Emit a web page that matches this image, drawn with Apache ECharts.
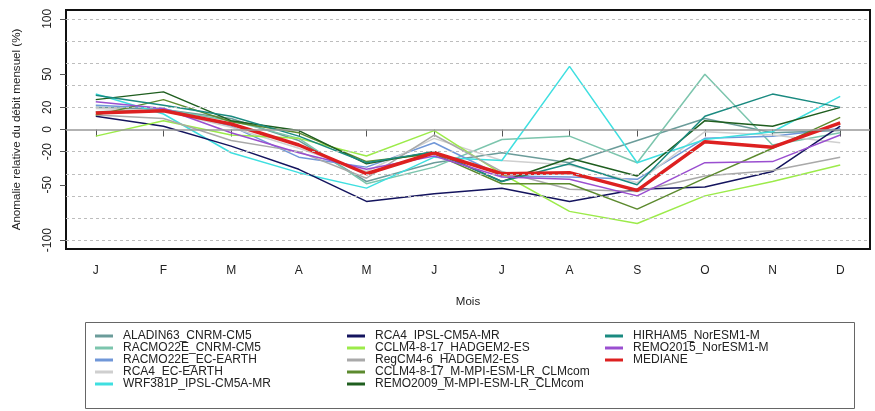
<!DOCTYPE html>
<html>
<head>
<meta charset="utf-8">
<script src="https://cdn.jsdelivr.net/npm/echarts@6/dist/echarts.min.js"></script>
<style>
  html, body { margin: 0; padding: 0; background: #fff; }
  #chart { width: 875px; height: 411px; }
</style>
</head>
<body>
<div id="chart"></div>
<script>
// Month positions 1..12 and their single-letter labels
const monthIndex = [1, 2, 3, 4, 5, 6, 7, 8, 9, 10, 11, 12];
const monthLabels = ['J', 'F', 'M', 'A', 'M', 'J', 'J', 'A', 'S', 'O', 'N', 'D'];

// Y axis: labelled values and dashed reference levels
const yTickValues = [-100, -50, -20, 0, 20, 50, 100];
const gridLevels = [-100, -80, -60, -40, -20, 20, 40, 60, 80, 100];

// Monthly relative flow anomaly (%) per simulation
const aladin63_cnrm = [20, 18, 10, -10, -47, -30, -21, -30, -10, 10, -3, -1];
const racmo22e_cnrm = [16, 18, 8, -8, -49, -34, -9, -6, -30, 50, -14, -3];
const racmo22e_ecearth = [22, 19, 3, -25, -34, -12, -42, -43, -45, -8, -6, 1];
const rca4_ecearth = [19, 17, 2, -17, -38, -8, -28, -32, -48, -2, -5, -12];
const wrf381p_ipsl = [32, 14, -21, -39, -53, -25, -28, 57, -30, -9, -2, 30];
const rca4_ipsl = [12, 3, -15, -36, -65, -58, -53, -65, -54, -52, -38, 3];
const cclm_hadgem = [-6, 8, -5, -8, -24, -1, -40, -74, -85, -60, -47, -32];
const regcm_hadgem = [13, 10, -10, -20, -44, -5, -38, -54, -56, -42, -37, -25];
const cclm_mpi = [13, 27, 7, -3, -29, -22, -49, -49, -72, -44, -17, 11];
const remo2009_mpi = [27, 34, 8, -1, -31, -20, -47, -26, -42, 8, 3, 20];
const hirham5_noresm = [31, 22, 12, -6, -30, -20, -47, -31, -50, 12, 32, 20];
const remo2015_noresm = [25, 19, -3, -21, -36, -24, -43, -45, -60, -30, -29, -5];
const mediane = [15, 17, 5, -14, -40, -21, -40, -39, -55, -11, -16, 6];

const models = [
  { name: 'ALADIN63_CNRM-CM5', values: aladin63_cnrm, color: '#6b9c9a' },
  { name: 'RACMO22E_CNRM-CM5', values: racmo22e_cnrm, color: '#7cc5ad' },
  { name: 'RACMO22E_EC-EARTH', values: racmo22e_ecearth, color: '#7097d8' },
  { name: 'RCA4_EC-EARTH', values: rca4_ecearth, color: '#cfcfcf' },
  { name: 'WRF381P_IPSL-CM5A-MR', values: wrf381p_ipsl, color: '#3fdfe0' },
  { name: 'RCA4_IPSL-CM5A-MR', values: rca4_ipsl, color: '#14145e' },
  { name: 'CCLM4-8-17_HADGEM2-ES', values: cclm_hadgem, color: '#9ceb4a' },
  { name: 'RegCM4-6_HADGEM2-ES', values: regcm_hadgem, color: '#a9a9a9' },
  { name: 'CCLM4-8-17_M-MPI-ESM-LR_CLMcom', values: cclm_mpi, color: '#5c8a2e' },
  { name: 'REMO2009_M-MPI-ESM-LR_CLMcom', values: remo2009_mpi, color: '#1f5e1f' },
  { name: 'HIRHAM5_NorESM1-M', values: hirham5_noresm, color: '#1a8a80' },
  { name: 'REMO2015_NorESM1-M', values: remo2015_noresm, color: '#9a4fd0' },
  { name: 'MEDIANE', values: mediane, color: '#dd2020', width: 3.5 }
];

const FONT = '"Liberation Sans", Arial, sans-serif';

const chart = echarts.init(document.getElementById('chart'), null, { renderer: 'canvas' });

const series = [];
// Background levels: dashed grid plus solid zero line
series.push({
  type: 'line',
  data: [],
  silent: true,
  z: 1,
  markLine: {
    silent: true,
    symbol: ['none', 'none'],
    label: { show: false },
    lineStyle: { color: '#bdbdbd', type: [3, 3], width: 1 },
    data: gridLevels.map(v => ({ yAxis: v }))
      .concat([{ yAxis: 0, lineStyle: { color: '#999', type: 'solid', width: 1.5 } }])
  }
});

models.forEach(m => {
  series.push({
    name: m.name,
    type: 'line',
    data: m.values.map((v, i) => [monthIndex[i], v]),
    showSymbol: false,
    symbol: 'none',
    z: 2,
    lineStyle: { color: m.color, width: m.width || 1.5 },
    itemStyle: { color: m.color },
    emphasis: { disabled: true },
    animation: false
  });
});

function legendColumn(names, left) {
  return {
    orient: 'vertical',
    left: left,
    top: 330,
    icon: 'rect',
    itemWidth: 18,
    itemHeight: 3,
    itemGap: 0,
    padding: 0,
    selectedMode: false,
    textStyle: { fontFamily: FONT, fontSize: 12, color: '#222', lineHeight: 11.6, padding: [0, 0, 0, 5] },
    data: names
  };
}

const names = models.map(m => m.name);

chart.setOption({
  animation: false,
  backgroundColor: '#fff',
  grid: {
    left: 66, top: 10, width: 804, height: 239,
    show: true, borderColor: '#111', borderWidth: 2, backgroundColor: 'transparent'
  },
  xAxis: {
    type: 'value',
    min: 0.56, max: 12.44,
    name: 'Mois',
    nameLocation: 'middle',
    nameGap: 47,
    nameTextStyle: { fontFamily: FONT, fontSize: 11.5, color: '#222' },
    axisLine: { show: false },
    axisTick: { show: true, length: 7, customValues: monthIndex, lineStyle: { color: '#555' } },
    axisLabel: {
      customValues: monthIndex,
      margin: 16,
      fontFamily: FONT, fontSize: 12, color: '#222',
      formatter: v => monthLabels[Math.round(v) - 1]
    },
    splitLine: { show: false }
  },
  yAxis: {
    type: 'value',
    min: -108, max: 108,
    name: 'Anomalie relative du débit mensuel (%)',
    nameLocation: 'middle',
    nameGap: 43,
    nameRotate: 90,
    nameTextStyle: { fontFamily: FONT, fontSize: 11.6, color: '#222' },
    axisLine: { show: false },
    axisTick: { show: true, length: 6, customValues: yTickValues, lineStyle: { color: '#555' } },
    axisLabel: {
      customValues: yTickValues,
      rotate: 90,
      margin: 12,
      fontFamily: FONT, fontSize: 12, color: '#222'
    },
    splitLine: { show: false }
  },
  legend: [
    legendColumn(names.slice(0, 5), 95),
    legendColumn(names.slice(5, 10), 347),
    legendColumn(names.slice(10), 605)
  ],
  graphic: [{
    type: 'rect',
    left: 83, top: 320,
    shape: { width: 769, height: 86 },
    style: { fill: 'none', stroke: '#666', lineWidth: 1 },
    z: -1
  }],
  series: series
});
</script>
</body>
</html>
